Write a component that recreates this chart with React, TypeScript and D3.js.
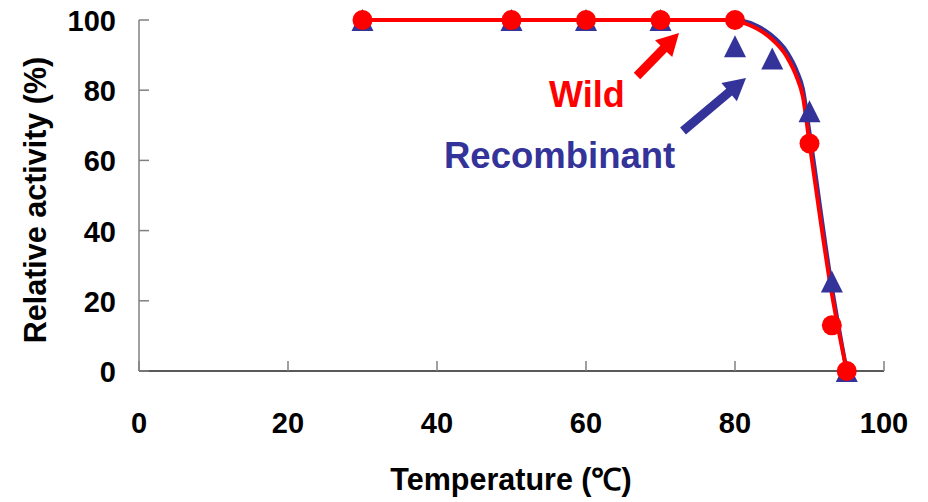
import React from "react";
import * as d3 from "d3";

const wildTemps = [30, 50, 60, 70, 80, 90, 93, 95];
const wildValues = [100, 100, 100, 100, 100, 64.8, 13, 0];
const recTemps = [30, 50, 60, 70, 80, 85, 90, 93, 95];
const recValues = [100, 100, 100, 100, 92.5, 89, 74, 25.5, 0];

const wildCurveT = [30, 50, 60, 70, 80, 81, 83, 84.7, 87, 88.3, 89.1, 90, 93, 95];
const wildCurveV = [100, 100, 100, 100, 100, 99.3, 97.5, 95, 89.4, 83.7, 78.3, 65, 22, 0];
const recCurveT = [30, 50, 60, 70, 80, 81, 83, 84.7, 87, 88.3, 89.1, 90, 93, 95];
const recCurveV = [100, 100, 100, 100, 100, 99.8, 98.3, 96, 90.8, 85.5, 80.5, 68, 24, 0];

const xTicks = [0, 20, 40, 60, 80, 100];
const yTicks = [0, 20, 40, 60, 80, 100];

const RED = "#FF0000";
const BLUE = "#333399";
const FONT = "'Liberation Sans', Arial, sans-serif";

export default function App() {
  const x = d3.scaleLinear().domain([0, 100]).range([139, 884]);
  const y = d3.scaleLinear().domain([0, 100]).range([371, 20]);

  const line = d3
    .line<[number, number]>()
    .x((d) => x(d[0]))
    .y((d) => y(d[1]))
    .curve(d3.curveMonotoneX);

  const wildCurve = wildCurveT.map((t, i) => [t, wildCurveV[i]] as [number, number]);
  const recCurve = recCurveT.map((t, i) => [t, recCurveV[i]] as [number, number]);

  const tri = (cx: number, cy: number) => {
    const h = 22;
    const w = 22;
    return `M${cx},${cy - h / 2}L${cx + w / 2},${cy + h / 2}L${cx - w / 2},${cy + h / 2}Z`;
  };

  const arrow = (x1: number, y1: number, x2: number, y2: number, color: string) => {
    const dx = x2 - x1;
    const dy = y2 - y1;
    const len = Math.sqrt(dx * dx + dy * dy);
    const ux = dx / len;
    const uy = dy / len;
    const px = -uy;
    const py = ux;
    const headL = 22;
    const headW = 12;
    const shaftW = 4.5;
    const bx = x2 - ux * headL;
    const by = y2 - uy * headL;
    const pts = [
      [x1 + px * shaftW, y1 + py * shaftW],
      [bx + px * shaftW, by + py * shaftW],
      [bx + px * headW, by + py * headW],
      [x2, y2],
      [bx - px * headW, by - py * headW],
      [bx - px * shaftW, by - py * shaftW],
      [x1 - px * shaftW, y1 - py * shaftW],
    ];
    return <polygon points={pts.map((p) => p.join(",")).join(" ")} fill={color} />;
  };

  return (
    <svg width={928} height={502} style={{ position: "absolute", left: 0, top: 0, background: "#fff" }}>
      {/* axes */}
      <line x1={139} y1={y(0)} x2={139} y2={y(100)} stroke="#808080" strokeWidth={1.5} />
      <line x1={139} y1={y(0)} x2={x(100)} y2={y(0)} stroke="#222" strokeWidth={1.5} />
      {yTicks.map((t) => (
        <g key={"y" + t}>
          <line x1={139} x2={149} y1={y(t)} y2={y(t)} stroke="#808080" strokeWidth={1.5} />
          <text
            x={116}
            y={y(t) + 11}
            textAnchor="end"
            fontFamily={FONT}
            fontWeight="bold"
            fontSize={29}
            fill="#000"
          >
            {t}
          </text>
        </g>
      ))}
      {xTicks.map((t) => (
        <g key={"x" + t}>
          <line x1={x(t)} x2={x(t)} y1={y(0)} y2={y(0) - 10} stroke="#808080" strokeWidth={1.5} />
          <text
            x={x(t)}
            y={433}
            textAnchor="middle"
            fontFamily={FONT}
            fontWeight="bold"
            fontSize={29}
            fill="#000"
          >
            {t}
          </text>
        </g>
      ))}
      <text
        x={511}
        y={490}
        textAnchor="middle"
        fontFamily={FONT}
        fontWeight="bold"
        fontSize={30.5}
        fill="#000"
      >
        Temperature (℃)
      </text>
      <text
        transform={`translate(46,200) rotate(-90)`}
        textAnchor="middle"
        fontFamily={FONT}
        fontWeight="bold"
        fontSize={30.5}
        fill="#000"
      >
        Relative activity (%)
      </text>

      {/* curves */}
      <path d={line(recCurve) || ""} fill="none" stroke={BLUE} strokeWidth={4} />
      <path d={line(wildCurve) || ""} fill="none" stroke={RED} strokeWidth={4} />

      {recTemps.map((t, i) => (
        <path key={"r" + i} d={tri(x(t), y(recValues[i]))} fill={BLUE} />
      ))}
      {wildTemps.map((t, i) => (
        <circle key={"w" + i} cx={x(t)} cy={y(wildValues[i])} r={10} fill={RED} />
      ))}

      {/* annotations */}
      {arrow(637, 76, 679, 33, RED)}
      {arrow(683, 131, 746, 78, BLUE)}
      <text x={549} y={107} fontFamily={FONT} fontWeight="bold" fontSize={36} fill={RED}>
        Wild
      </text>
      <text x={444} y={168} fontFamily={FONT} fontWeight="bold" fontSize={36.5} fill={BLUE}>
        Recombinant
      </text>
    </svg>
  );
}
